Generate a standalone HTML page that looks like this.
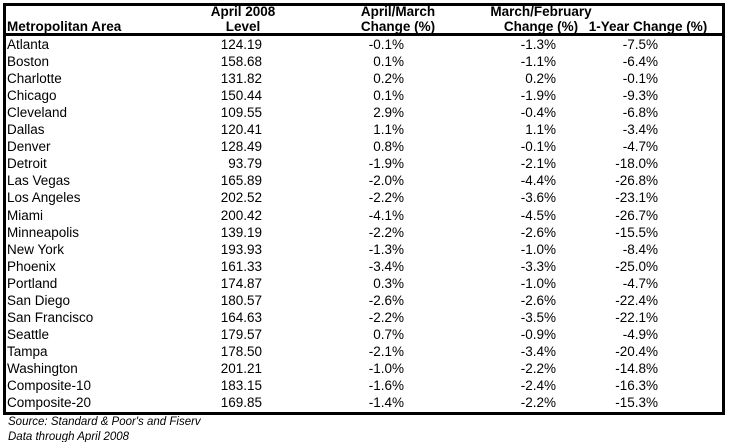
<!DOCTYPE html>
<html><head><meta charset="utf-8"><style>
html,body{margin:0;padding:0;background:#fff;}
#c{position:relative;width:730px;height:442px;overflow:hidden;font-family:"Liberation Sans",Arial,sans-serif;color:#000;}
.box{position:absolute;left:3px;top:3px;width:716px;height:406px;border:3px solid #000;}
.sep{position:absolute;left:3px;top:33px;width:722px;height:3px;background:#000;}
.h{position:absolute;font-weight:bold;font-size:13.5px;line-height:15px;white-space:nowrap;}
.hc{transform:translateX(-50%);text-align:center;}
.r{position:absolute;left:0;width:730px;height:17px;font-size:13.5px;line-height:17px;white-space:nowrap;}
.r span{position:absolute;top:0;}
.n{left:7px;}
.a{right:468px;}
.b{right:326px;}
.d{right:174px;}
.e{right:72px;}
.f{position:absolute;left:8px;font-style:italic;font-size:11.5px;line-height:13px;white-space:nowrap;}
</style></head><body><div id="c">
<div class="box"></div>
<div class="sep"></div>
<div class="h" style="left:7px;top:19px;">Metropolitan Area</div>
<div class="h hc" style="left:243px;top:4px;">April 2008<br>Level</div>
<div class="h hc" style="left:398px;top:4px;">April/March<br>Change (%)</div>
<div class="h hc" style="left:541px;top:4px;">March/February<br>Change (%)</div>
<div class="h hc" style="left:648px;top:19px;">1-Year Change (%)</div>

<div class="r" style="top:36px"><span class="n">Atlanta</span><span class="a">124.19</span><span class="b">-0.1%</span><span class="d">-1.3%</span><span class="e">-7.5%</span></div>
<div class="r" style="top:53.05px"><span class="n">Boston</span><span class="a">158.68</span><span class="b">0.1%</span><span class="d">-1.1%</span><span class="e">-6.4%</span></div>
<div class="r" style="top:70.1px"><span class="n">Charlotte</span><span class="a">131.82</span><span class="b">0.2%</span><span class="d">0.2%</span><span class="e">-0.1%</span></div>
<div class="r" style="top:87.15px"><span class="n">Chicago</span><span class="a">150.44</span><span class="b">0.1%</span><span class="d">-1.9%</span><span class="e">-9.3%</span></div>
<div class="r" style="top:104.2px"><span class="n">Cleveland</span><span class="a">109.55</span><span class="b">2.9%</span><span class="d">-0.4%</span><span class="e">-6.8%</span></div>
<div class="r" style="top:121.25px"><span class="n">Dallas</span><span class="a">120.41</span><span class="b">1.1%</span><span class="d">1.1%</span><span class="e">-3.4%</span></div>
<div class="r" style="top:138.3px"><span class="n">Denver</span><span class="a">128.49</span><span class="b">0.8%</span><span class="d">-0.1%</span><span class="e">-4.7%</span></div>
<div class="r" style="top:155.35px"><span class="n">Detroit</span><span class="a">93.79</span><span class="b">-1.9%</span><span class="d">-2.1%</span><span class="e">-18.0%</span></div>
<div class="r" style="top:172.4px"><span class="n">Las Vegas</span><span class="a">165.89</span><span class="b">-2.0%</span><span class="d">-4.4%</span><span class="e">-26.8%</span></div>
<div class="r" style="top:189.45px"><span class="n">Los Angeles</span><span class="a">202.52</span><span class="b">-2.2%</span><span class="d">-3.6%</span><span class="e">-23.1%</span></div>
<div class="r" style="top:206.5px"><span class="n">Miami</span><span class="a">200.42</span><span class="b">-4.1%</span><span class="d">-4.5%</span><span class="e">-26.7%</span></div>
<div class="r" style="top:223.55px"><span class="n">Minneapolis</span><span class="a">139.19</span><span class="b">-2.2%</span><span class="d">-2.6%</span><span class="e">-15.5%</span></div>
<div class="r" style="top:240.6px"><span class="n">New York</span><span class="a">193.93</span><span class="b">-1.3%</span><span class="d">-1.0%</span><span class="e">-8.4%</span></div>
<div class="r" style="top:257.65px"><span class="n">Phoenix</span><span class="a">161.33</span><span class="b">-3.4%</span><span class="d">-3.3%</span><span class="e">-25.0%</span></div>
<div class="r" style="top:274.7px"><span class="n">Portland</span><span class="a">174.87</span><span class="b">0.3%</span><span class="d">-1.0%</span><span class="e">-4.7%</span></div>
<div class="r" style="top:291.75px"><span class="n">San Diego</span><span class="a">180.57</span><span class="b">-2.6%</span><span class="d">-2.6%</span><span class="e">-22.4%</span></div>
<div class="r" style="top:308.8px"><span class="n">San Francisco</span><span class="a">164.63</span><span class="b">-2.2%</span><span class="d">-3.5%</span><span class="e">-22.1%</span></div>
<div class="r" style="top:325.85px"><span class="n">Seattle</span><span class="a">179.57</span><span class="b">0.7%</span><span class="d">-0.9%</span><span class="e">-4.9%</span></div>
<div class="r" style="top:342.9px"><span class="n">Tampa</span><span class="a">178.50</span><span class="b">-2.1%</span><span class="d">-3.4%</span><span class="e">-20.4%</span></div>
<div class="r" style="top:359.95px"><span class="n">Washington</span><span class="a">201.21</span><span class="b">-1.0%</span><span class="d">-2.2%</span><span class="e">-14.8%</span></div>
<div class="r" style="top:377px"><span class="n">Composite-10</span><span class="a">183.15</span><span class="b">-1.6%</span><span class="d">-2.4%</span><span class="e">-16.3%</span></div>
<div class="r" style="top:394.05px"><span class="n">Composite-20</span><span class="a">169.85</span><span class="b">-1.4%</span><span class="d">-2.2%</span><span class="e">-15.3%</span></div>
<div class="f" style="top:415.5px;">Source: Standard &amp; Poor's and Fiserv</div>
<div class="f" style="top:431px;">Data through April 2008</div>
</div></body></html>
